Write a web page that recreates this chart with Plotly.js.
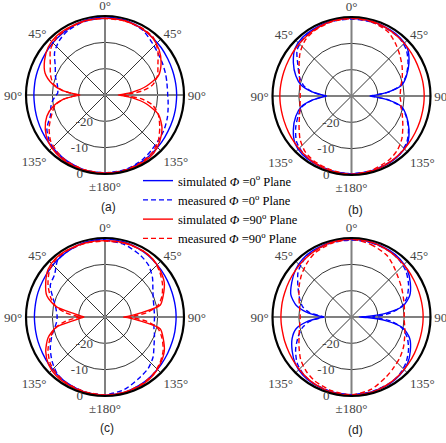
<!DOCTYPE html>
<html>
<head>
<meta charset="utf-8">
<script src="https://cdn.plot.ly/plotly-3.0.1.min.js"></script>
<style>html,body{margin:0;padding:0;background:#fff}#chart{width:446px;height:443px}</style>
</head>
<body>
<div id="chart"></div>
<script>
// angles (deg, clockwise from top; 90 = right side, 270 = left side)
const theta = [0,15,30,40,50,60,70,78,84,88,90,92,96,102,110,120,130,140,150,165,180,
               195,210,220,230,240,250,258,264,268,270,272,276,282,290,300,310,320,330,345,360];

const seriesNames = [
  'simulated <i>Φ</i> =0<sup>o</sup> Plane',
  'measured <i>Φ</i> =0<sup>o</sup> Plane',
  'simulated <i>Φ</i> =90<sup>o</sup> Plane',
  'measured <i>Φ</i> =90<sup>o</sup> Plane'
];
const panelLabels = ['(a)','(b)','(c)','(d)'];
const angTickVals = [0,45,90,135,180,225,270,315];
const angTickText = ['0°','45°','90°','135°','±180°','135°','90°','45°'];
const radTickVals = [-20,-10,0];
const radTickText = ['-20','-10','0'];

// ---- panel (a) ----
const aSim0 = [-0.3,-0.6,-1.2,-1.7,-2.1,-2.5,-2.7,-2.8,-2.8,-2.8,-2.8,-2.8,-2.8,-2.7,-2.6,-2.4,-2.0,-1.6,-1.1,-0.5,-0.2,
               -0.5,-1.1,-1.6,-2.0,-2.4,-2.7,-2.9,-3.0,-3.0,-3.0,-3.0,-3.0,-2.9,-2.8,-2.6,-2.2,-1.8,-1.3,-0.6,-0.3];
const aMeas0 = [-0.9,-0.6,-1.5,-3.0,-4.2,-5.0,-5.6,-6.0,-6.2,-6.2,-6.2,-6.1,-5.9,-5.5,-4.8,-4.0,-3.4,-2.6,-1.6,-0.6,-0.5,
                -0.4,-0.8,-1.3,-2.5,-4.5,-8.0,-9.0,-10.0,-11.0,-11.5,-12.0,-12.0,-11.5,-10.0,-8.2,-5.0,-3.0,-1.8,-1.0,-0.9];
const aSim90 = [-0.8,-0.8,-1.2,-1.8,-3.2,-5.4,-8.4,-14,-19.5,-23.5,-25,-23.5,-19.5,-14,-8.4,-5.0,-2.8,-1.2,-0.6,-0.3,-0.3,
                -0.4,-0.6,-1.1,-2.0,-3.8,-6.5,-10,-14,-18.5,-20.5,-18.5,-13.5,-9.5,-5.8,-3.5,-1.8,-1.0,-0.9,-0.8,-0.8];
const aMeas90 = [-1.0,-0.9,-1.0,-1.5,-3.8,-6.8,-8.8,-11.5,-16,-22,-24,-22,-16,-11.5,-8.5,-6.0,-3.5,-1.8,-1.0,-0.5,-0.4,
                 -0.5,-1.0,-1.8,-3.0,-5.5,-8.5,-10.5,-14,-18,-20,-18,-14,-10,-8.0,-6.0,-3.0,-1.5,-1.2,-0.9,-1.0];

// ---- panel (b) ----
const bSim0 = [-0.5,-0.6,-0.9,-1.2,-2.2,-4.8,-7.8,-10.5,-16,-21,-23,-21,-16,-10.5,-7.8,-4.8,-2.2,-1.2,-0.8,-0.5,-0.4,
               -0.5,-0.8,-1.0,-2.0,-4.5,-7.5,-10.5,-15,-19,-20.5,-19,-15,-10.5,-7.5,-4.5,-2.0,-1.0,-0.8,-0.5,-0.5];
const bMeas0 = [-0.8,-0.9,-1.2,-1.5,-2.8,-5.2,-8.0,-11,-16,-21,-22,-21,-16,-11,-8.0,-5.0,-2.6,-1.4,-1.0,-0.6,-0.5,
                -0.6,-1.0,-1.5,-2.8,-5.5,-8.5,-11,-15,-18.5,-20,-18.5,-15,-11.5,-9.0,-6.5,-3.0,-1.5,-1.0,-0.7,-0.8];
const bSim90 = [-0.3,-0.6,-1.1,-1.5,-1.9,-2.2,-2.4,-2.4,-2.4,-2.4,-2.4,-2.4,-2.4,-2.4,-2.3,-2.1,-1.8,-1.4,-1.0,-0.4,-0.2,
                -0.4,-1.0,-1.5,-2.0,-2.4,-2.7,-2.8,-2.8,-2.8,-2.8,-2.8,-2.8,-2.8,-2.7,-2.5,-2.1,-1.7,-1.2,-0.6,-0.3];
const bMeas90 = [-0.6,-0.8,-2.0,-4.0,-6.0,-7.8,-9.5,-10.8,-11.3,-11.5,-11.5,-11.5,-11.2,-10.8,-9.5,-7.5,-5.0,-3.0,-1.8,-0.8,-0.3,
                 -0.8,-1.5,-2.5,-4.5,-7.0,-9.0,-10.0,-10.4,-10.5,-10.5,-10.5,-10.4,-10.0,-9.0,-7.0,-4.5,-2.5,-1.5,-0.8,-0.6];

// ---- panel (c) ----
const cSim0 = [-0.3,-0.6,-1.2,-1.7,-2.2,-2.6,-2.9,-3.0,-3.0,-3.0,-3.0,-3.0,-3.0,-2.9,-2.8,-2.5,-2.1,-1.6,-1.1,-0.5,-0.2,
               -0.5,-1.1,-1.6,-2.1,-2.6,-2.9,-3.1,-3.2,-3.2,-3.2,-3.2,-3.2,-3.1,-2.9,-2.7,-2.3,-1.8,-1.3,-0.6,-0.3];
const cMeas0 = [-0.8,-1.5,-3.0,-4.3,-6.5,-9.0,-10.5,-11,-11.2,-11.2,-11.2,-11.2,-11.2,-11,-10,-8.5,-6.2,-4.5,-3.5,-1.5,-0.5,
                -0.5,-1.0,-1.8,-3.8,-6.0,-8.5,-10.5,-11.5,-11.8,-11.8,-11.8,-11.5,-10.8,-9.0,-6.0,-5.0,-2.0,-1.3,-0.8,-0.6];
const cSim90 = [-1.0,-0.9,-1.0,-1.5,-2.6,-4.0,-6.5,-8.6,-17,-21,-23,-21,-17,-8.6,-6.5,-4.0,-2.5,-1.3,-0.7,-0.4,-0.3,
                -0.4,-0.7,-1.0,-2.0,-4.0,-7.0,-11,-18.5,-21,-22,-21,-18.5,-11,-6.5,-4.0,-1.8,-0.9,-0.8,-0.9,-1.0];
const cMeas90 = [-1.2,-1.0,-1.1,-1.6,-3.0,-4.8,-7.0,-9.5,-14,-19,-21,-19,-14,-9.5,-7.0,-4.5,-2.8,-1.6,-1.0,-0.5,-0.4,
                 -0.6,-1.0,-1.6,-2.8,-5.0,-8.0,-11,-15,-19,-21,-19,-15,-11,-8.0,-5.0,-2.5,-1.2,-1.0,-1.0,-1.2];

// ---- panel (d) ----
const dSim0 = [-0.5,-0.6,-0.9,-1.3,-2.3,-4.2,-6.5,-10,-17,-24,-27,-24,-17,-10,-6.5,-4.2,-2.3,-1.3,-0.8,-0.5,-0.4,
               -0.5,-0.8,-1.2,-2.2,-4.0,-6.0,-8.5,-13,-17.5,-19.5,-17.5,-13,-8.5,-5.5,-3.8,-2.2,-1.2,-0.8,-0.5,-0.5];
const dMeas0 = [-0.8,-0.8,-1.2,-1.8,-3.0,-5.0,-7.5,-10.5,-15,-20,-22,-20,-15,-10.5,-7.5,-5.0,-3.0,-1.6,-1.0,-0.6,-0.5,
                -0.6,-1.0,-1.6,-3.0,-5.5,-8.5,-11,-14,-18,-19.5,-18,-14,-11,-9.0,-6.5,-3.5,-1.8,-1.2,-0.8,-0.8];
const dSim90 = [-0.3,-0.6,-1.2,-1.7,-2.1,-2.5,-2.7,-2.8,-2.8,-2.8,-2.8,-2.8,-2.8,-2.8,-2.7,-2.4,-2.0,-1.5,-1.0,-0.4,-0.2,
                -0.4,-1.0,-1.6,-2.2,-2.7,-3.0,-3.2,-3.2,-3.2,-3.2,-3.2,-3.2,-3.1,-3.0,-2.7,-2.3,-1.8,-1.3,-0.6,-0.3];
const dMeas90 = [-0.5,-1.5,-3.0,-5.0,-6.8,-8.0,-9.0,-9.5,-9.8,-10,-10,-10,-9.8,-9.3,-8.5,-7.2,-6.0,-5.0,-3.7,-1.5,-0.5,
                 -1.0,-2.0,-3.2,-4.8,-7.0,-8.8,-9.8,-10.3,-10.5,-10.5,-10.5,-10.3,-9.8,-8.8,-7.0,-5.2,-3.5,-2.0,-1.0,-0.5];

const panels = [
  [aSim0, aMeas0, aSim90, aMeas90],
  [bSim0, bMeas0, bSim90, bMeas90],
  [cSim0, cMeas0, cSim90, cMeas90],
  [dSim0, dMeas0, dSim90, dMeas90]
];
const styles = [
  {color:'#0000ff', dash:'solid'},
  {color:'#0000ff', dash:'5px,3px'},
  {color:'#ff0000', dash:'solid'},
  {color:'#ff0000', dash:'5px,3px'}
];
const subplots = ['polar','polar2','polar3','polar4'];

const traces = [];
subplots.forEach((sp, p) => {
  // thick grey principal axes (0/180 and 90/270)
  traces.push({type:'scatterpolar', subplot:sp, mode:'lines', r:[1.2,-30,1.2], theta:[0,0,180],
    line:{color:'#808080', width:2}, showlegend:false, hoverinfo:'skip', cliponaxis:false});
  traces.push({type:'scatterpolar', subplot:sp, mode:'lines', r:[1.5,-30,1.5], theta:[90,90,270],
    line:{color:'#808080', width:2}, showlegend:false, hoverinfo:'skip', cliponaxis:false});
  panels[p].forEach((vals, i) => {
    traces.push({type:'scatterpolar', subplot:sp, mode:'lines', r:vals, theta:theta,
      name:seriesNames[i], showlegend:p===0, legendrank:i+1,
      line:{color:styles[i].color, dash:styles[i].dash, width:1.4, shape:'spline', smoothing:0.7}});
  });
});

const W = 446, H = 443;
function dom(cx, cy, R){
  return {x:[(cx-R)/W,(cx+R)/W], y:[1-(cy+R)/H, 1-(cy-R)/H]};
}
const centers = [[105,95],[351.5,96],[105,317],[351.5,317]];
const serif = 'Liberation Serif, Times New Roman, serif';

function polarLayout(c){
  return {
    domain: dom(c[0], c[1], 79),
    bgcolor:'rgba(0,0,0,0)',
    radialaxis:{range:[-30,0], tickvals:radTickVals, ticktext:radTickText, showline:false, ticks:'',
      angle:259, tickangle:-101, gridcolor:'#000', gridwidth:0.8,
      tickfont:{family:serif, size:13, color:'#444'}},
    angularaxis:{rotation:90, direction:'clockwise', tickvals:angTickVals, ticktext:angTickText,
      showline:true, linecolor:'#000', linewidth:2.2, gridcolor:'#000', gridwidth:0.8, ticks:'',
      tickfont:{family:serif, size:13, color:'#444'}}
  };
}

const labelPos = [[108,207],[355,210],[107,428],[355,430]];
const layout = {
  width:W, height:H, margin:{l:0,r:0,t:0,b:0},
  paper_bgcolor:'#fff',
  showlegend:true,
  legend:{x:138/W, y:1-166/H, xanchor:'left', yanchor:'top', bgcolor:'rgba(0,0,0,0)',
    font:{family:serif, size:12.5, color:'#000'}, tracegroupgap:0, borderwidth:0},
  annotations: panelLabels.map((t, k) => ({text:t, xref:'paper', yref:'paper', x:labelPos[k][0]/W, y:1-labelPos[k][1]/H,
    showarrow:false, xanchor:'center', yanchor:'middle', font:{family:'Liberation Sans, Arial, sans-serif', size:12, color:'#222'}}))
};
subplots.forEach((sp, k) => { layout[sp] = polarLayout(centers[k]); });

Plotly.newPlot('chart', traces, layout, {staticPlot:true});
</script>
</body>
</html>
